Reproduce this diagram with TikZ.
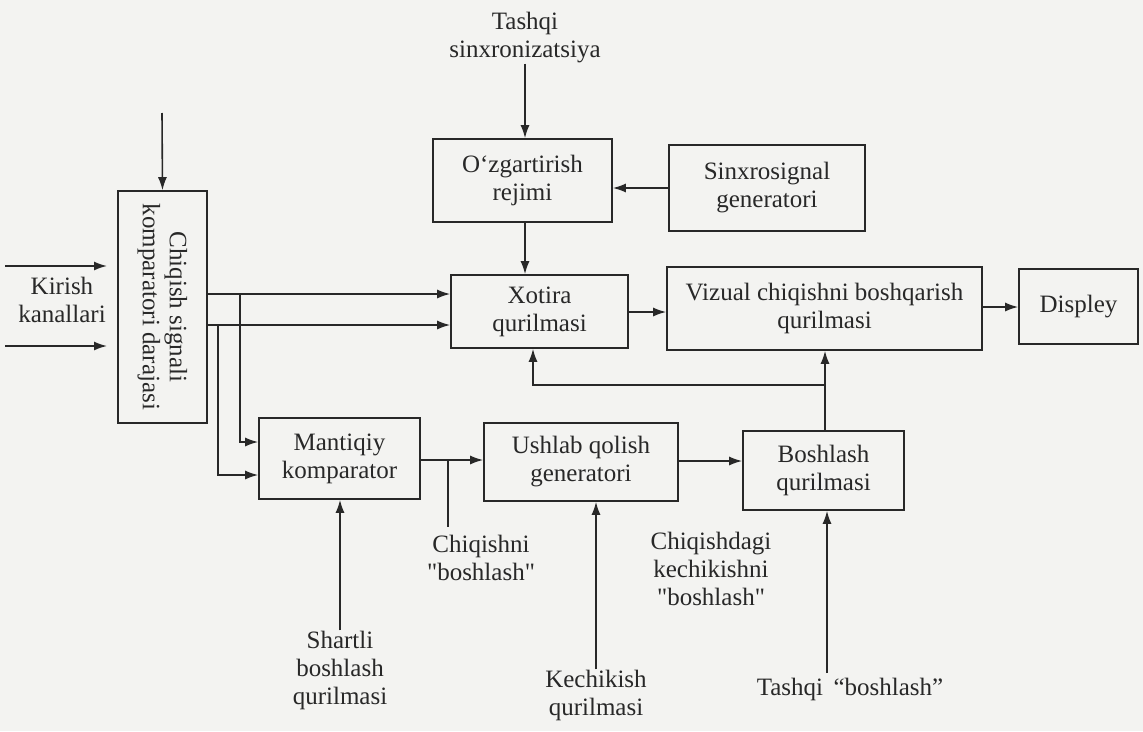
\documentclass[tikz,border=0pt]{standalone}
\usepackage{fontspec}
\setmainfont{Liberation Serif}
\usetikzlibrary{arrows.meta}
\definecolor{ink}{RGB}{40,40,40}
\definecolor{paper}{RGB}{243,243,241}
\begin{document}
\begin{tikzpicture}[x=1pt,y=-1pt,
  every node/.style={font=\fontsize{25}{28}\selectfont, text=ink, align=center},
  box/.style={draw=ink, line width=1.6pt, inner sep=0pt},
  lbl/.style={inner sep=0pt},
  conn/.style={draw=ink, line width=1.6pt},
  arr/.style={conn, -{Latex[length=13pt,width=9pt]}}
]
\fill[paper] (0,0) rectangle (1143,731);
\useasboundingbox (0,0) rectangle (1143,731);

% boxes
\node[box, minimum width=89pt, minimum height=232pt] (comp) at (162.5,307) {};
\node[rotate=-90, lbl, font=\fontsize{25}{27}\selectfont] at (comp.center) {Chiqish signali\\komparatori darajasi};
\node[box, minimum width=177pt, minimum height=73pt] (xot) at (539.5,311.5) {Xotira\\qurilmasi};
\node[box, minimum width=179pt, minimum height=83pt] (ozg) at (522.5,180.5) {O‘zgartirish\\rejimi};
\node[box, minimum width=196pt, minimum height=86pt] (sinx) at (767,188) {Sinxrosignal\\generatori};
\node[box, minimum width=315pt, minimum height=83pt] (viz) at (824.5,308.5) {Vizual chiqishni boshqarish\\qurilmasi};
\node[box, minimum width=119pt, minimum height=75pt] (disp) at (1078.5,306.5) {Displey};
\node[box, minimum width=161pt, minimum height=81pt] (mant) at (339.5,458.5) {Mantiqiy\\komparator};
\node[box, minimum width=194pt, minimum height=78pt] (ush) at (581,462) {Ushlab qolish\\generatori};
\node[box, minimum width=161pt, minimum height=79pt] (bosh) at (823.5,470.5) {Boshlash\\qurilmasi};

% labels
\node[lbl] (kir) at (62,300) {Kirish\\kanallari};
\node[lbl] (tsx) at (525,38) {Tashqi\\sinxronizatsiya};
\node[lbl] (chb) at (481,558) {Chiqishni\\\textquotedbl boshlash\textquotedbl};
\node[lbl] (chk) at (711,569) {Chiqishdagi\\kechikishni\\\textquotedbl boshlash\textquotedbl};
\node[lbl] (kech) at (596,695) {Kechikish\\qurilmasi};
\node[lbl] (shart) at (340,670) {Shartli\\boshlash\\qurilmasi};
\node[lbl] (tbo) at (850,689) {Tashqi\, “boshlash”};

% free-end coordinates
\coordinate (in1s) at (5,266);  \coordinate (in1e) at (107,266);
\coordinate (in2s) at (5,346);  \coordinate (in2e) at (107,346);
\coordinate (ctop) at (162,113);
\coordinate (j1) at (240,294);
\coordinate (j2) at (218,325);
\coordinate (j3) at (448,460);
\coordinate (j4) at (825,385);

% connectors
\draw[arr] (in1s) -- (in1e);
\draw[arr] (in2s) -- (in2e);
\draw[arr] (ctop) -- (comp.north);
\draw[arr] (comp.east |- j1) -- (xot.west |- j1);
\draw[arr] (comp.east |- j2) -- (xot.west |- j2);
\draw[arr] (j1) -- (240,442) -- (mant.west |- 0,442);
\draw[arr] (j2) -- (218,475) -- (mant.west |- 0,475);
\draw[arr] (tsx.south -| 525,0) -- (ozg.north -| 525,0);
\draw[arr] (ozg.south -| 525,0) -- (xot.north -| 525,0);
\draw[arr] (sinx.west) -- (ozg.east |- sinx.west);
\draw[arr] (xot.east |- 0,312) -- (viz.west |- 0,312);
\draw[arr] (viz.east |- 0,307) -- (disp.west |- 0,307);
\draw[arr] (mant.east |- j3) -- (ush.west |- j3);
\draw[conn] (j3) -- (448,527);
\draw[arr] (ush.east |- 0,461) -- (bosh.west |- 0,461);
\draw[arr] (kech.north -| 596,0) -- (ush.south -| 596,0);
\draw[arr] (shart.north -| 340,0) -- (mant.south -| 340,0);
\draw[arr] (827,673) -- (bosh.south -| 827,0);
\draw[arr] (bosh.north -| j4) -- (viz.south -| j4);
\draw[arr] (j4) -- (533,385) -- (xot.south -| 533,0);
\end{tikzpicture}
\end{document}
